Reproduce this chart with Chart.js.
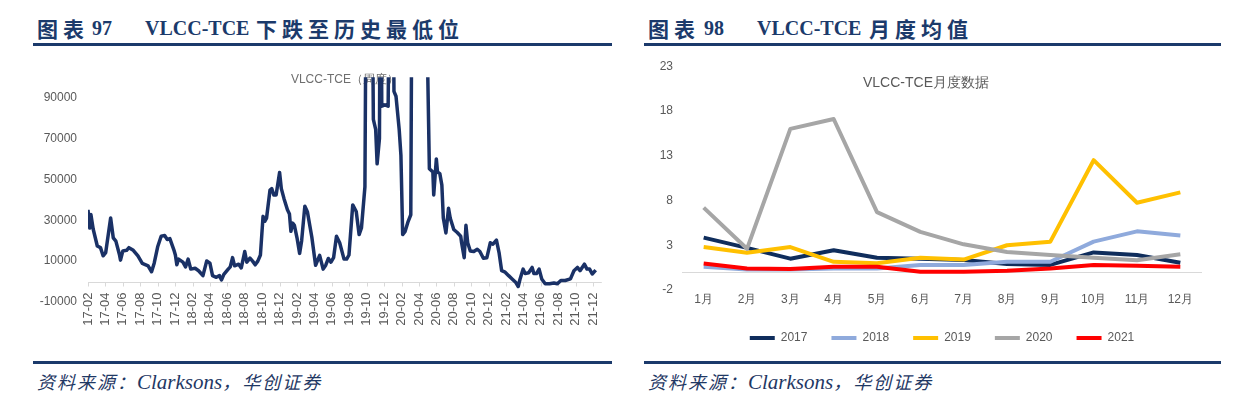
<!DOCTYPE html>
<html>
<head>
<meta charset="utf-8">
<script src="https://cdn.jsdelivr.net/npm/chart.js@4"></script>
<style>
  body { margin: 0; width: 1256px; height: 394px; background: #fff; position: relative; overflow: hidden; }
  .abs { position: absolute; white-space: nowrap; }
  .hd { top: 16px; line-height: 24px; color: #1b3a6b; font-weight: bold; }
  .cn { font-family: 'Noto Sans CJK SC', sans-serif; font-size: 21px; letter-spacing: 5px; }
  .en { font-family: 'Liberation Serif', 'Times New Roman', serif; font-size: 20px; }
  .rule { position: absolute; height: 3px; background: #1b3a6b; }
  .ft { top: 370px; line-height: 24px; color: #1f3864; font-style: italic; font-size: 18px; letter-spacing: 2px; font-family: 'Liberation Serif', 'Noto Sans CJK SC', serif; }
  .ft .lat { font-size: 21px; letter-spacing: 0; }
  canvas { position: absolute; }
</style>
</head>
<body>
  <span class="abs hd cn" style="left:37px">图表</span>
  <span class="abs hd en" style="left:92px">97</span>
  <span class="abs hd en" style="left:145px">VLCC-TCE</span>
  <span class="abs hd cn" style="left:256px">下跌至历史最低位</span>
  <div class="rule" style="left:33px;top:43px;width:579px"></div>

  <span class="abs hd cn" style="left:648px">图表</span>
  <span class="abs hd en" style="left:704px">98</span>
  <span class="abs hd en" style="left:757px">VLCC-TCE</span>
  <span class="abs hd cn" style="left:869px">月度均值</span>
  <div class="rule" style="left:644px;top:43px;width:577px"></div>

  <canvas id="weekly" width="590" height="291" style="left:30px;top:59px"></canvas>
  <canvas id="monthly" width="600" height="305" style="left:640px;top:50px"></canvas>

  <div class="rule" style="left:33px;top:361px;width:579px"></div>
  <div class="rule" style="left:644px;top:361px;width:577px"></div>
  <span class="abs ft" style="left:37px">资料来源：<span class="lat">Clarksons</span>，华创证券</span>
  <span class="abs ft" style="left:648px">资料来源：<span class="lat">Clarksons</span>，华创证券</span>

<script>
// 图表97：VLCC-TCE 周度（美元/天）
const tceDates = [
  '2017-02-01','2017-02-07','2017-02-11','2017-02-19','2017-03-03','2017-03-14','2017-03-23','2017-04-02',
  '2017-04-19','2017-04-28','2017-05-07','2017-05-19','2017-05-23','2017-06-01','2017-06-14','2017-06-22',
  '2017-07-07','2017-07-23','2017-08-08','2017-08-28','2017-09-10','2017-09-19','2017-10-01','2017-10-13',
  '2017-10-25','2017-11-04','2017-11-13','2017-11-28','2017-12-02','2017-12-07','2017-12-13','2017-12-28',
  '2018-01-07','2018-01-16','2018-01-25','2018-02-10','2018-02-22','2018-03-07','2018-03-20','2018-04-01',
  '2018-04-10','2018-04-23','2018-05-04','2018-05-11','2018-05-19','2018-06-04','2018-06-11','2018-06-19',
  '2018-06-26','2018-07-10','2018-07-19','2018-08-01','2018-08-08','2018-08-19','2018-08-28','2018-09-07',
  '2018-09-16','2018-09-25','2018-10-04','2018-10-10','2018-10-16','2018-10-28','2018-11-04','2018-11-11',
  '2018-11-19','2018-12-01','2018-12-07','2018-12-16','2018-12-28','2019-01-05','2019-01-10','2019-01-16',
  '2019-01-22','2019-02-01','2019-02-10','2019-02-17','2019-02-28','2019-03-07','2019-03-22','2019-04-05',
  '2019-04-19','2019-05-01','2019-05-10','2019-05-19','2019-05-28','2019-06-07','2019-06-17','2019-06-28',
  '2019-07-13','2019-07-22','2019-07-30','2019-08-13','2019-08-25','2019-09-05','2019-09-13','2019-09-25',
  '2019-10-03','2019-10-15','2019-10-24','2019-11-02','2019-11-07','2019-11-15','2019-11-19','2019-11-23',
  '2019-12-04','2019-12-15','2019-12-22','2019-12-30','2020-01-05','2020-01-12','2020-01-23','2020-01-29',
  '2020-02-05','2020-02-13','2020-02-24','2020-03-03','2020-03-10','2020-04-01','2020-04-19','2020-04-28',
  '2020-05-07','2020-05-19','2020-05-22','2020-06-01','2020-06-05','2020-06-13','2020-06-20','2020-06-25',
  '2020-07-04','2020-07-13','2020-07-19','2020-08-01','2020-08-13','2020-08-25','2020-08-28','2020-09-07',
  '2020-09-13','2020-09-19','2020-09-28','2020-10-10','2020-10-22','2020-11-01','2020-11-13','2020-11-25',
  '2020-12-07','2020-12-16','2020-12-28','2021-01-07','2021-01-16','2021-01-28','2021-02-10','2021-02-22',
  '2021-03-04','2021-03-13','2021-03-19','2021-03-30','2021-04-07','2021-04-19','2021-05-01','2021-05-07',
  '2021-05-16','2021-05-25','2021-06-04','2021-06-16','2021-07-01','2021-07-16','2021-07-28','2021-08-10',
  '2021-08-25','2021-09-13','2021-09-25','2021-10-07','2021-10-16','2021-11-01','2021-11-10','2021-11-19',
  '2021-11-28','2021-12-10'
]
const tceValues = [
  35100, 26200, 32800, 25600, 17400, 16600, 12600, 14200,
  31100, 21400, 19800, 13400, 10500, 15000, 15300, 16600,
  15300, 12600, 8900, 7700, 4800, 9000, 17000, 22200,
  22500, 20600, 21000, 15000, 13000, 8200, 11000, 9500,
  7200, 11000, 6100, 6500, 5300, 2900, 10100, 9000,
  2900, 2100, 2900, 800, 3500, 6100, 7200, 11700,
  7700, 8500, 6700, 14700, 9500, 11500, 10000, 8200,
  10000, 13000, 31900, 29500, 31000, 44800, 45500, 42400,
  42400, 53400, 45500, 40700, 35100, 33000, 24600, 28600,
  27500, 21400, 13800, 20000, 36900, 34000, 21800, 8000,
  12800, 6100, 8000, 11300, 9500, 11700, 22200, 19000,
  11000, 11000, 13000, 37500, 34300, 23000, 26200, 46400,
  250000, 250000, 79400, 74500, 57600, 70000, 200000, 85800,
  86500, 85800, 200000, 200000, 93100, 90700, 74500, 61700,
  23000, 24400, 29500, 32700, 250000, 280000, 250000, 130000,
  55200, 53600, 42400, 60000, 53600, 52800, 47200, 31100,
  23800, 35900, 31000, 25500, 24000, 22200, 19000, 11700,
  27500, 19000, 15000, 14700, 15800, 14700, 11400, 11700,
  19000, 18300, 20300, 14200, 5300, 4600, 2900, 1300,
  -300, -2400, 1000, 6100, 3900, 4300, 6900, 3900,
  3900, 6100, 1300, -1100, -1100, -700, -1100, 500,
  500, 1300, 5300, 6900, 5300, 8500, 6100, 6100,
  3700, 5600
]
const weeklyTicks = [
  '17-02','17-04','17-06','17-08','17-10','17-12',
  '18-02','18-04','18-06','18-08','18-10','18-12',
  '19-02','19-04','19-06','19-08','19-10','19-12',
  '20-02','20-04','20-06','20-08','20-10','20-12',
  '21-02','21-04','21-06','21-08','21-10','21-12'
]
const weeklyYTicks = [-10000, 10000, 30000, 50000, 70000, 90000]

// 图表98：VLCC-TCE 月度均值（万美元/天）
const months = ['1月','2月','3月','4月','5月','6月','7月','8月','9月','10月','11月','12月']
const years = ['2017', '2018', '2019', '2020', '2021']
const tce2017 = [3.85, 2.7, 1.5, 2.45, 1.6, 1.5, 1.35, 0.9, 0.8, 2.2, 1.9, 1.05]
const tce2018 = [0.6, 0.3, 0.3, 0.4, 0.4, 0.8, 0.8, 1.15, 1.15, 3.4, 4.55, 4.1]
const tce2019 = [2.8, 2.15, 2.8, 1.15, 1.0, 1.6, 1.4, 3.0, 3.4, 12.5, 7.75, 8.9]
const tce2020 = [7.2, 2.6, 16.0, 17.1, 6.7, 4.5, 3.1, 2.25, 1.9, 1.6, 1.33, 2.0]
const tce2021 = [0.95, 0.4, 0.35, 0.6, 0.6, 0.05, 0.05, 0.15, 0.4, 0.8, 0.7, 0.6]
const monthlyYTicks = [-2, 3, 8, 13, 18, 23]

const monthOffset = (s) => {
  const [y, m, d] = s.split('-').map(Number)
  return (y - 2017) * 12 + (m - 2) + (d - 1) / 30
}

const zeroLine = {
  id: 'zeroLine',
  beforeDatasetsDraw(chart, args, opts) {
    const {ctx, chartArea, scales: {x, y}} = chart
    const y0 = Math.round(y.getPixelForValue(0)) + 0.5
    ctx.save()
    ctx.strokeStyle = opts.color
    ctx.lineWidth = 1
    ctx.beginPath()
    ctx.moveTo(chartArea.left, y0)
    ctx.lineTo(chartArea.right, y0)
    if (opts.marks) {
      x.ticks.forEach(t => {
        const px = Math.round(x.getPixelForValue(t.value)) + 0.5
        ctx.moveTo(px, y0)
        ctx.lineTo(px, y0 + 4)
      })
    }
    ctx.stroke()
    ctx.restore()
  }
}

const innerTitle = {
  id: 'innerTitle',
  beforeDatasetsDraw(chart, args, opts) {
    const {ctx, chartArea} = chart
    ctx.save()
    ctx.font = opts.font
    ctx.fillStyle = opts.color
    ctx.textAlign = 'center'
    ctx.textBaseline = 'middle'
    ctx.fillText(opts.text, (chartArea.left + chartArea.right) / 2 + opts.dx, chartArea.top + opts.dy)
    ctx.restore()
  }
}

const grey = '#595959'
const sans = "'Liberation Sans', Arial, sans-serif"

new Chart(document.querySelector('#weekly'), {
  type: 'line',
  data: {
    datasets: [{
      label: 'VLCC-TCE（周度）',
      data: tceDates.map((d, i) => ({x: monthOffset(d), y: tceValues[i]})),
      borderColor: '#1a3166',
      borderWidth: 3.5,
      borderJoinStyle: 'round',
      pointRadius: 0,
      tension: 0
    }]
  },
  options: {
    responsive: false,
    animation: false,
    layout: {padding: {top: 12, right: 18, bottom: 48, left: 0}},
    scales: {
      x: {
        type: 'linear',
        position: {y: 0},
        min: 0,
        max: 59,
        afterBuildTicks: s => { s.ticks = weeklyTicks.map((_, i) => ({value: i * 2})) },
        grid: {display: false, drawTicks: false},
        border: {display: false},
        ticks: {
          autoSkip: false,
          minRotation: 90,
          maxRotation: 90,
          padding: 11,
          color: grey,
          font: {family: sans, size: 13},
          callback: (v, i) => weeklyTicks[i]
        }
      },
      y: {
        min: -10000,
        max: 100000,
        afterBuildTicks: s => { s.ticks = weeklyYTicks.map(v => ({value: v})) },
        afterFit: s => { s.width = 58 },
        grid: {display: false, drawTicks: false},
        border: {display: false},
        ticks: {padding: 11, color: grey, font: {family: sans, size: 12}, callback: v => String(v)}
      }
    },
    plugins: {
      legend: {display: false},
      tooltip: {enabled: false},
      zeroLine: {color: '#d9d9d9', marks: true},
      innerTitle: {text: 'VLCC-TCE（周度）', font: `12px ${sans}`, color: '#6e6e6e', dx: 0, dy: 2}
    }
  },
  plugins: [zeroLine, innerTitle]
})

const monthlySeries = [tce2017, tce2018, tce2019, tce2020, tce2021]
const seriesColors = ['#0f2d5c', '#8faadc', '#ffc000', '#a6a6a6', '#ff0000']

new Chart(document.querySelector('#monthly'), {
  type: 'line',
  data: {
    labels: months,
    datasets: monthlySeries.map((values, i) => ({
      label: years[i],
      data: values,
      borderColor: seriesColors[i],
      backgroundColor: seriesColors[i],
      borderWidth: 4,
      borderJoinStyle: 'round',
      pointRadius: 0,
      tension: 0,
      order: years.length - i
    }))
  },
  options: {
    responsive: false,
    animation: false,
    layout: {padding: {top: 5, right: 38, bottom: 1, left: 0}},
    scales: {
      x: {
        offset: true,
        afterFit: s => { s.height = 18 },
        grid: {display: false, drawTicks: false},
        border: {display: false},
        ticks: {padding: 2, color: grey, font: {family: sans, size: 12}}
      },
      y: {
        min: -2,
        max: 23,
        afterBuildTicks: s => { s.ticks = monthlyYTicks.map(v => ({value: v})) },
        afterFit: s => { s.width = 42 },
        grid: {display: false, drawTicks: false},
        border: {display: false},
        ticks: {padding: 9, color: grey, font: {family: sans, size: 12}}
      }
    },
    plugins: {
      legend: {
        position: 'bottom',
        fullSize: false,
        labels: {
          boxWidth: 25,
          boxHeight: 4,
          padding: 24,
          color: grey,
          font: {family: sans, size: 12},
          sort: (a, b) => a.datasetIndex - b.datasetIndex,
          generateLabels: chart => Chart.defaults.plugins.legend.labels.generateLabels(chart)
            .map(l => ({...l, lineWidth: 0, fillStyle: l.strokeStyle}))
        }
      },
      tooltip: {enabled: false},
      zeroLine: {color: '#d9d9d9', marks: false},
      innerTitle: {text: 'VLCC-TCE月度数据', font: `14px ${sans}`, color: grey, dx: -16, dy: 17}
    }
  },
  plugins: [zeroLine, innerTitle]
})
</script>
</body>
</html>
